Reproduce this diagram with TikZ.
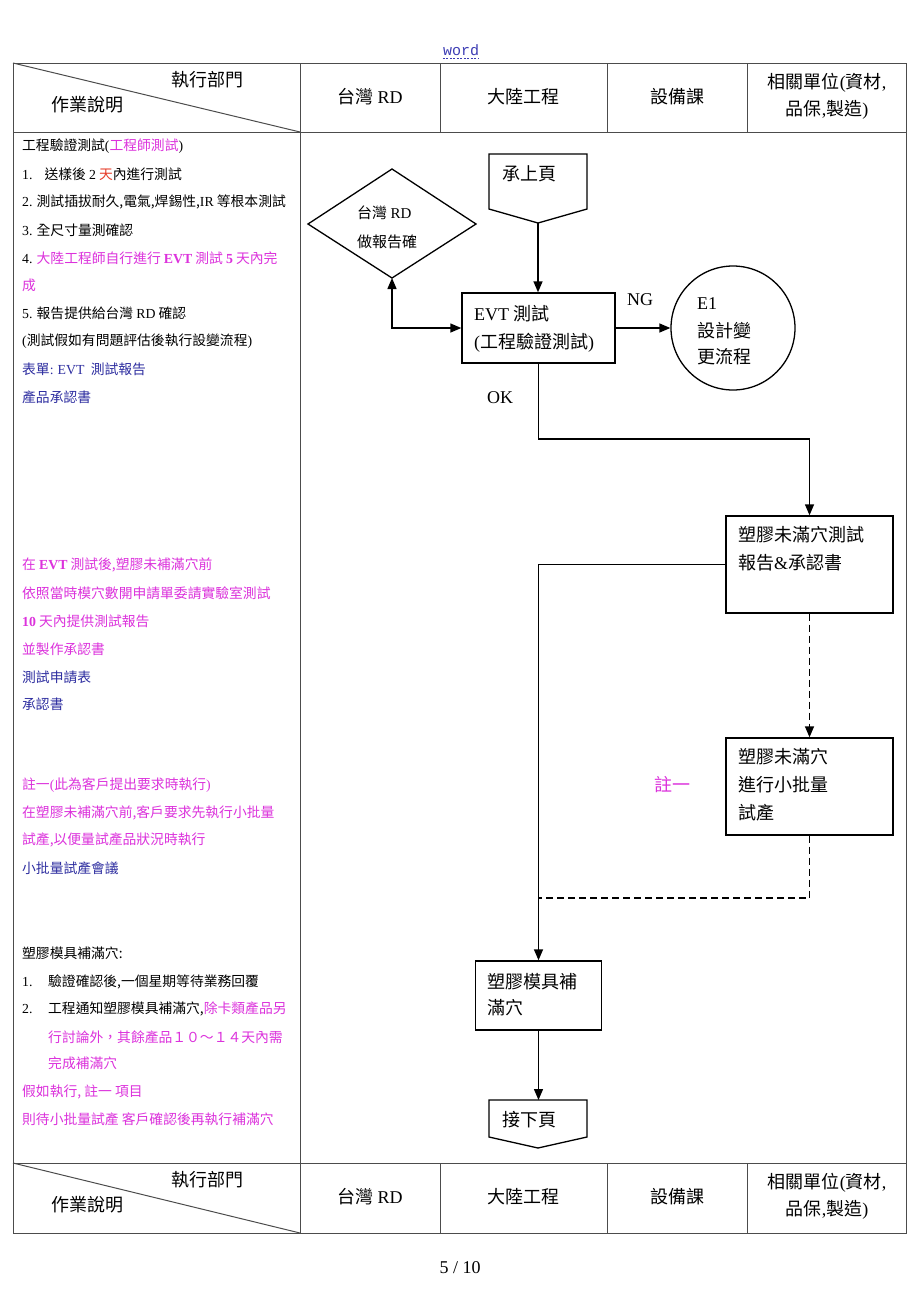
\documentclass[tikz,border=0pt]{standalone}
\usepackage{fontspec}
\setmainfont{Noto Sans CJK TC}
\newfontfamily\ser{Liberation Serif}
\newfontfamily\mono{Liberation Mono}
\usetikzlibrary{arrows.meta}
\newcommand\lat[1]{{\ser #1}}
\newcommand\latb[1]{{\ser\bfseries #1}}
\definecolor{mag}{RGB}{220,50,220}
\definecolor{blu}{RGB}{45,45,160}
\definecolor{redo}{RGB}{230,60,40}
\definecolor{wordblue}{RGB}{60,60,180}
\begin{document}
\begin{tikzpicture}[x=1pt,y=-1pt,
  >={Triangle[length=11pt,width=9pt]},
  tline/.style={line width=1pt, draw=black!70},
  fbox/.style={draw, line width=1.4pt, rectangle, inner sep=0},
  shp/.style={draw, line width=1.3pt},
  conn/.style={line width=1.4pt, ->},
  dline/.style={line width=1.4pt, dash pattern=on 7pt off 4pt},
  lt/.style={anchor=west, inner sep=0, font=\fontsize{13.8}{16}\selectfont},
  ht/.style={inner sep=0, font=\fontsize{18}{22}\selectfont},
  bt/.style={anchor=west, inner sep=0, font=\fontsize{18}{22}\selectfont},
  dt/.style={anchor=west, inner sep=0, font=\fontsize{15}{18}\selectfont}]
\fill[white] (0,0) rectangle (920,1302);
\useasboundingbox (0,0) rectangle (920,1302);

% ---------- table ----------
\draw[tline] (13,63) rectangle (906,1233);
\draw[tline] (13,132) -- (906,132);
\draw[tline] (13,1163) -- (906,1163);
\draw[tline] (300,63) -- (300,1233);
\foreach \xx in {440,607,747}{
  \draw[tline] (\xx,63) -- (\xx,132);
  \draw[tline] (\xx,1163) -- (\xx,1233);
}
\draw[tline] (13,63) -- (300,132);
\draw[tline] (13,1163) -- (300,1233);

% header
\node[ht] (h1) at (207,80) {執行部門};
\node[ht] (h2) at (87,105) {作業說明};
\node[ht] (h3) at (370,97) {台灣 \lat{RD}};
\node[ht] (h4) at (523.5,97) {大陸工程};
\node[ht] (h5) at (677,97) {設備課};
\node[ht] (h6) at (827,83) {相關單位\lat{(}資材\lat{,}};
\node[ht] (h7) at (827,110) {品保\lat{,}製造\lat{)}};
% footer
\node[ht] (f1) at (207,1180) {執行部門};
\node[ht] (f2) at (87,1205) {作業說明};
\node[ht] (f3) at (370,1197) {台灣 \lat{RD}};
\node[ht] (f4) at (523.5,1197) {大陸工程};
\node[ht] (f5) at (677,1197) {設備課};
\node[ht] (f6) at (827,1183) {相關單位\lat{(}資材\lat{,}};
\node[ht] (f7) at (827,1210) {品保\lat{,}製造\lat{)}};

% word + page number
\node[font=\mono\fontsize{15}{17}\selectfont, text=wordblue, inner sep=0] (word) at (461,50) {word};
\draw[wordblue, line width=0.7pt, dash pattern=on 2pt off 1.5pt] ([yshift=-3pt]word.south west) -- ([yshift=-3pt]word.south east);
\node[font=\ser\fontsize{18}{20}\selectfont, inner sep=0] (pg) at (460,1268) {5 / 10};

% ---------- left column text ----------
\node[lt] (a1) at (22,146) {工程驗證測試\lat{(}\textcolor{mag}{工程師測試}\lat{)}};
\node[lt] (a2) at (22,174) {\lat{1.}\hspace{12pt}送樣後 \lat{2} \textcolor{redo}{天}內進行測試};
\node[lt] (a3) at (22,202) {\lat{2.} 測試插拔耐久,電氣,焊錫性,\lat{IR} 等根本測試};
\node[lt] (a4) at (22,230) {\lat{3.} 全尺寸量測確認};
\node[lt] (a5) at (22,258) {\lat{4.} \textcolor{mag}{大陸工程師自行進行 \latb{EVT} 測試 \latb{5} 天內完}};
\node[lt, text=mag] (a6) at (22,285) {成};
\node[lt] (a7) at (22,313) {\lat{5.} 報告提供給台灣 \lat{RD} 確認};
\node[lt] (a8) at (22,341) {\lat{(}測試假如有問題評估後執行設變流程\lat{)}};
\node[lt, text=blu] (a9) at (22,369) {表單\lat{:} \lat{EVT}\ \ 測試報告};
\node[lt, text=blu] (a10) at (22,397) {產品承認書};

\node[lt, text=mag] (b1t) at (22,565) {在 \latb{EVT} 測試後,塑膠未補滿穴前};
\node[lt, text=mag] (b2t) at (22,593) {依照當時模穴數開申請單委請實驗室測試};
\node[lt, text=mag] (b3t) at (22,621) {\latb{10} 天內提供測試報告};
\node[lt, text=mag] (b4t) at (22,649) {並製作承認書};
\node[lt, text=blu] (b5t) at (22,677) {測試申請表};
\node[lt, text=blu] (b6t) at (22,704) {承認書};

\node[lt, text=mag] (c1t) at (22,785) {註一\lat{(}此為客戶提出要求時執行\lat{)}};
\node[lt, text=mag] (c2t) at (22,813) {在塑膠未補滿穴前,客戶要求先執行小批量};
\node[lt, text=mag] (c3t) at (22,840) {試產,以便量試產品狀況時執行};
\node[lt, text=blu] (c4t) at (22,868) {小批量試產會議};

\node[lt] (d1t) at (22,953) {塑膠模具補滿穴:};
\node[lt] (d2t) at (22,982) {\makebox[26pt][l]{\lat{1.}}驗證確認後,一個星期等待業務回覆};
\node[lt] (d3t) at (22,1009) {\makebox[26pt][l]{\lat{2.}}工程通知塑膠模具補滿穴,\textcolor{mag}{除卡類產品另}};
\node[lt, text=mag] (d4t) at (48,1037) {行討論外，其餘產品１０～１４天內需};
\node[lt, text=mag] (d5t) at (48,1063) {完成補滿穴};
\node[lt, text=mag] (d6t) at (22,1092) {假如執行, 註一 項目};
\node[lt, text=mag] (d7t) at (22,1119) {則待小批量試產 客戶確認後再執行補滿穴};

% ---------- flowchart ----------
% off-page connector (from previous page)
\draw[shp] (489,154) -- (587,154) -- (587,209) -- (538,223) -- (489,209) -- cycle;
\coordinate (prevpt) at (538,223);
\node[bt] (prevtxt) at (502,174) {承上頁};

% diamond
\draw[shp] (308,224) -- (392,169) -- (476,224) -- (392,278) -- cycle;
\coordinate (diab) at (392,278);
\node[dt] (dia1) at (357,213) {台灣 \lat{RD}};
\node[dt] (dia2) at (357,242) {做報告確};

% EVT box
\node[fbox, minimum width=153pt, minimum height=70pt] (evt) at (538.5,328) {};
\node[bt] (evt1) at (474,314) {\lat{EVT} 測試};
\node[bt] (evt2) at (474,343) {\lat{(}工程驗證測試\lat{)}};

% E1 circle
\node[draw, line width=1.3pt, circle, minimum size=124pt, inner sep=0] (e1) at (733,328) {};
\node[bt] (e1a) at (697,304) {\lat{E1}};
\node[bt] (e1b) at (697,331) {設計變};
\node[bt] (e1c) at (697,357) {更流程};

\node[bt] (ng) at (627,300) {\lat{NG}};
\node[bt] (ok) at (487,398) {\lat{OK}};

% box 1
\node[fbox, minimum width=167pt, minimum height=97pt] (bx1) at (809.5,564.5) {};
\node[bt] (bx1a) at (738,535) {塑膠未滿穴測試};
\node[bt] (bx1b) at (738,563) {報告\lat{\&}承認書};

% box 2
\node[fbox, minimum width=167pt, minimum height=97pt] (bx2) at (809.5,786.5) {};
\node[bt] (bx2a) at (738,757) {塑膠未滿穴};
\node[bt] (bx2b) at (738,785) {進行小批量};
\node[bt] (bx2c) at (738,813) {試產};

\node[ht, text=mag] (note) at (672,785) {註一};

% box 3
\node[fbox, minimum width=126pt, minimum height=69pt] (bx3) at (538.5,995.5) {};
\node[bt] (bx3a) at (487,982) {塑膠模具補};
\node[bt] (bx3b) at (487,1008) {滿穴};

% off-page connector (to next page)
\draw[shp] (489,1100) -- (587,1100) -- (587,1137) -- (538,1148) -- (489,1137) -- cycle;
\coordinate (nexttop) at (538.5,1100);
\node[bt] (nexttxt) at (502,1120) {接下頁};

% connectors
\coordinate (okbend) at (538.5,439);
\coordinate (joinpt) at (538.5,898);
\draw[conn] (prevpt) -- (prevpt |- evt.north);
\draw[line width=1.4pt, <->] (diab) |- (evt.west);
\draw[conn] (evt.east) -- (e1.west);
\draw[conn] (evt.south) -- (okbend) -| (bx1.north);
\draw[conn] (bx1.west) -| (bx3.north);
\draw[dline, ->] (bx1.south) -- (bx2.north);
\draw[dline] (bx2.south) |- (joinpt);
\draw[conn] (bx3.south) -- (nexttop);
\end{tikzpicture}
\end{document}
